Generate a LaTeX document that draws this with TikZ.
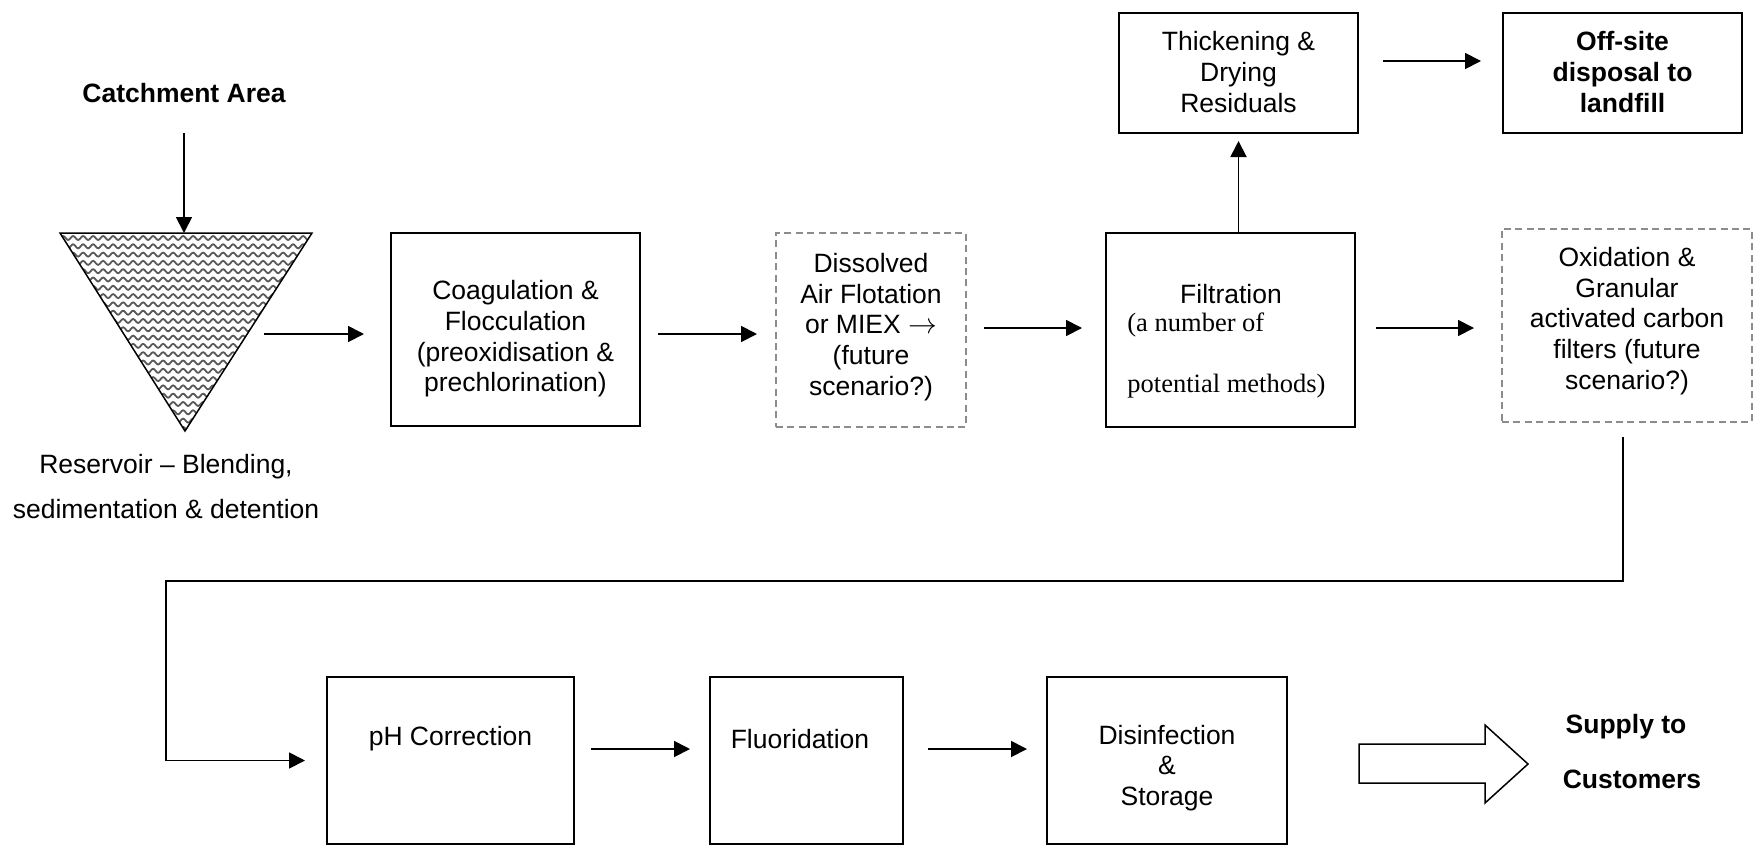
\documentclass[tikz,border=0pt]{standalone}
\usepackage{fontspec}
\setmainfont{Liberation Sans}
\newfontfamily\timesf{Liberation Serif}
\usetikzlibrary{arrows.meta,decorations.pathmorphing}
\begin{document}
\begin{tikzpicture}[x=0.5pt,y=-0.5pt,
  box/.style={draw,line width=1pt,inner sep=0pt},
  dbox/.style={draw=black!45,line width=1pt,dash pattern=on 3.5pt off 2.2pt,inner sep=0pt},
  txt/.style={align=center,font=\fontsize{13.25}{15.35}\selectfont,inner sep=0pt},
  btxt/.style={txt,font=\fontsize{13.25}{15.35}\selectfont\bfseries},
  flow/.style={line width=0.9pt,-{Triangle[length=8pt,width=8pt]}},
  wave/.style={black!65,line width=0.9pt,decorate,decoration={snake,segment length=5pt,amplitude=1pt}}
]
\useasboundingbox (0,0) rectangle (1754,846);

% ---------- reservoir (triangle) ----------
\coordinate (tl) at (60,233);
\coordinate (tr) at (312,233);
\coordinate (tb) at (185,431);
\coordinate (restop) at (184,233);
\coordinate (resout) at (264,334);
\begin{scope}
  \clip (tl) -- (tr) -- (tb) -- cycle;
  \foreach \yy in {238,246.3,...,436} \draw[wave] (50,\yy) -- (330,\yy);
\end{scope}
\draw[line width=0.75pt] (tl) -- (tr) -- (tb) -- cycle;

\node[btxt] (cat) at (184,93) {Catchment Area};
\node[txt,font=\fontsize{13.25}{22.5}\selectfont] (res) at (166,487) {Reservoir -- Blending,\\sedimentation \& detention};

% ---------- top row boxes ----------
\node[box,minimum width=124.5pt,minimum height=96.5pt] (coag) at (515.5,329.5) {};
\node[dbox,minimum width=95pt,minimum height=97pt] (daf) at (871,330) {};
\node[box,minimum width=124.5pt,minimum height=97pt] (filt) at (1230.5,330) {};
\node[dbox,minimum width=125pt,minimum height=96.5pt] (ox) at (1627,325.5) {};
\node[box,minimum width=119.5pt,minimum height=60pt] (thick) at (1238.5,73) {};
\node[box,minimum width=119.5pt,minimum height=60pt] (off) at (1622.5,73) {};

\node[txt] (coagT) at (515.5,339) {Coagulation \&\\Flocculation\\(preoxidisation \&\\prechlorination)};
\node[txt] (dafT) at (871,327) {Dissolved\\Air Flotation\\or MIEX $\rightarrow$\\(future\\scenario?)};
\node[txt] (filtT) at (1231,294) {Filtration};
\node[txt,align=left,anchor=west,font=\fontsize{13.25}{30.5}\selectfont\timesf] (filtS) at (1127,355) {(a number of\\potential methods)};
\node[txt] (oxT) at (1627,321) {Oxidation \&\\Granular\\activated carbon\\filters (future\\scenario?)};
\node[txt] (thickT) at (1238.5,72) {Thickening \&\\Drying\\Residuals};
\node[btxt] (offT) at (1622.5,72) {Off-site\\disposal to\\landfill};

% ---------- bottom row boxes ----------
\node[box,minimum width=123.5pt,minimum height=83.5pt] (ph) at (450.5,760.5) {};
\node[box,minimum width=96.5pt,minimum height=83.5pt] (fl) at (806.5,760.5) {};
\node[box,minimum width=120pt,minimum height=83.5pt] (dis) at (1167,760.5) {};

\node[txt] (phT) at (450.5,739) {pH Correction};
\node[txt] (flT) at (800,739) {Fluoridation};
\node[txt] (disT) at (1167,768) {Disinfection\\\&\\Storage};

\node[btxt] (sup1) at (1626,727) {Supply to};
\node[btxt] (sup2) at (1632,779) {Customers};

% ---------- connectors ----------
\draw[flow,shorten <=15pt] (cat.south -| restop) -- (restop);
\draw[flow,shorten >=13pt] (resout) -- (coag.west |- resout);
\coordinate (r1) at (0,334);
\draw[flow,shorten <=8.5pt,shorten >=9pt] (coag.east |- r1) -- (daf.west |- r1);
\coordinate (r2) at (0,328);
\draw[flow,shorten <=8.5pt,shorten >=11.5pt] (daf.east |- r2) -- (filt.west |- r2);
\draw[flow,shorten <=10pt,shorten >=13.5pt] (filt.east |- r2) -- (ox.west |- r2);
\draw[flow,shorten >=3.5pt] (thick.south |- filt.north) -- (thick.south);
\coordinate (r3) at (0,61);
\draw[flow,shorten <=12pt,shorten >=10.5pt] (thick.east |- r3) -- (off.west |- r3);

\coordinate (loopA) at (1623,437);
\coordinate (loopB) at (166,581);
\draw[flow,shorten >=10.5pt] (loopA) |- (loopB) |- (ph.west);

\coordinate (r4) at (0,749);
\draw[flow,shorten <=8pt,shorten >=9.5pt] (ph.east |- r4) -- (fl.west |- r4);
\draw[flow,shorten <=12pt,shorten >=9.5pt] (fl.east |- r4) -- (dis.west |- r4);

% ---------- block arrow ----------
\draw[line width=0.75pt] (1359,744) -- (1485,744) -- (1485,725) -- (1528,764) -- (1485,803) -- (1485,783) -- (1359,783) -- cycle;
\end{tikzpicture}
\end{document}
